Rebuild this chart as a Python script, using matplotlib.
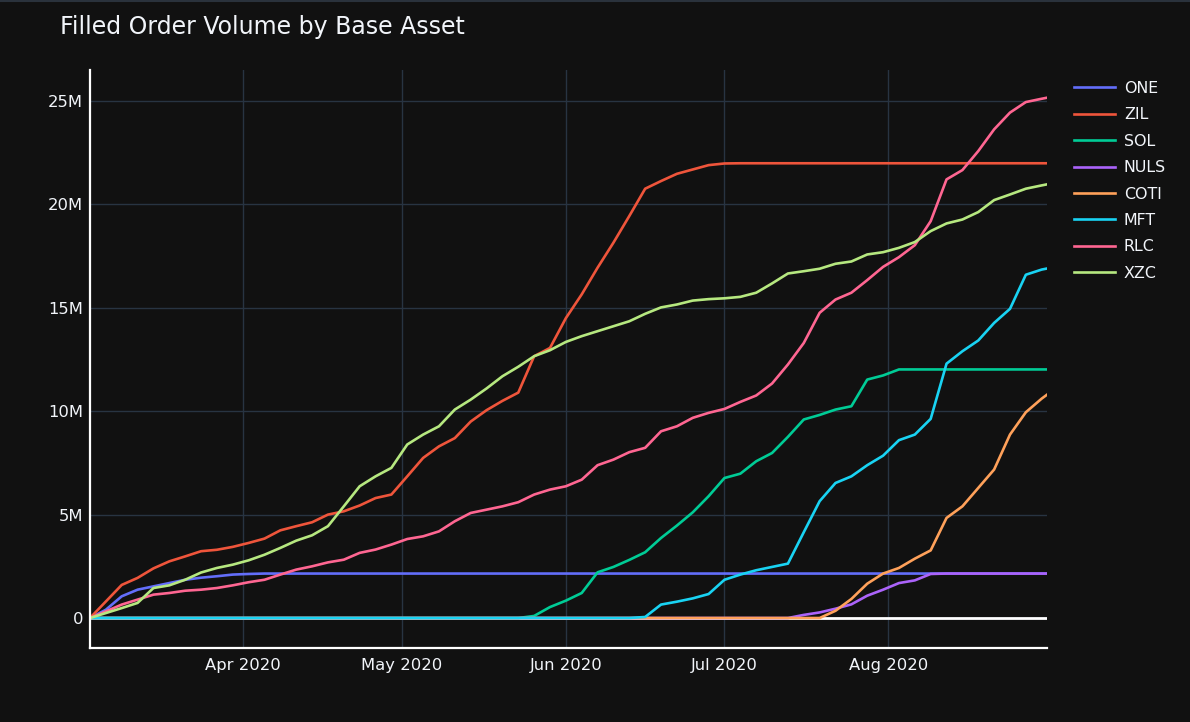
import numpy as np
import pandas as pd
import matplotlib
matplotlib.use("Agg")
import matplotlib.pyplot as plt
import matplotlib.ticker as mticker
from matplotlib.lines import Line2D

# sample days (offset from 2020-03-03), every 3 days up to the last day
start = pd.Timestamp("2020-03-03")
day_offsets = list(range(0, 181, 3)) + [181]
dates = start + pd.to_timedelta(day_offsets, unit="D")

# cumulative filled volume, in millions
one = [0, 0.4, 1.05, 1.37, 1.53, 1.69, 1.85, 1.95, 2.02, 2.1, 2.13,
       2.15, 2.15, 2.15, 2.15, 2.15, 2.15, 2.15, 2.15, 2.15, 2.15,
       2.15, 2.15, 2.15, 2.15, 2.15, 2.15, 2.15, 2.15, 2.15, 2.15,
       2.15, 2.15, 2.15, 2.15, 2.15, 2.15, 2.15, 2.15, 2.15, 2.15,
       2.15, 2.15, 2.15, 2.15, 2.15, 2.15, 2.15, 2.15, 2.15, 2.15,
       2.15, 2.15, 2.15, 2.15, 2.15, 2.15, 2.15, 2.15, 2.15, 2.15, 2.15]
zil = [0, 0.8, 1.6, 1.94, 2.4, 2.74, 2.98, 3.23, 3.3, 3.44, 3.63,
       3.84, 4.24, 4.44, 4.63, 5.0, 5.16, 5.44, 5.8, 5.97, 6.85,
       7.74, 8.3, 8.7, 9.5, 10.05, 10.5, 10.9, 12.66, 13.06, 14.5,
       15.65, 16.94, 18.15, 19.44, 20.76, 21.13, 21.48, 21.69, 21.9, 21.98,
       21.99, 21.99, 21.99, 21.99, 21.99, 21.99, 21.99, 21.99, 21.99, 21.99,
       21.99, 21.99, 21.99, 21.99, 21.99, 21.99, 21.99, 21.99, 21.99, 21.99, 21.99]
sol = [0, 0, 0, 0, 0, 0, 0, 0, 0, 0, 0,
       0, 0, 0, 0, 0, 0, 0, 0, 0, 0,
       0, 0, 0, 0, 0, 0, 0, 0.1, 0.53, 0.84,
       1.21, 2.21, 2.47, 2.81, 3.18, 3.87, 4.47, 5.11, 5.89, 6.77,
       6.98, 7.58, 7.98, 8.76, 9.6, 9.82, 10.08, 10.24, 11.53, 11.73,
       12.02, 12.02, 12.02, 12.02, 12.02, 12.02, 12.02, 12.02, 12.02, 12.02, 12.02]
nuls = [0, 0, 0, 0, 0, 0, 0, 0, 0, 0, 0,
        0, 0, 0, 0, 0, 0, 0, 0, 0, 0,
        0, 0, 0, 0, 0, 0, 0, 0, 0, 0,
        0, 0, 0, 0, 0, 0, 0, 0, 0, 0,
        0, 0, 0, 0, 0.15, 0.27, 0.45, 0.66, 1.08, 1.37,
        1.69, 1.82, 2.13, 2.15, 2.15, 2.15, 2.15, 2.15, 2.15, 2.15, 2.15]
coti = [0, 0, 0, 0, 0, 0, 0, 0, 0, 0, 0,
        0, 0, 0, 0, 0, 0, 0, 0, 0, 0,
        0, 0, 0, 0, 0, 0, 0, 0, 0, 0,
        0, 0, 0, 0, 0, 0, 0, 0, 0, 0,
        0, 0, 0, 0, 0, 0, 0.35, 0.92, 1.66, 2.15,
        2.42, 2.87, 3.27, 4.84, 5.4, 6.29, 7.18, 8.87, 9.95, 10.61, 10.8]
mft = [0, 0, 0, 0, 0, 0, 0, 0, 0, 0, 0,
       0, 0, 0, 0, 0, 0, 0, 0, 0, 0,
       0, 0, 0, 0, 0, 0, 0, 0, 0, 0,
       0, 0, 0, 0, 0.05, 0.65, 0.79, 0.95, 1.16, 1.85,
       2.1, 2.31, 2.47, 2.63, 4.15, 5.65, 6.53, 6.85, 7.39, 7.85,
       8.6, 8.87, 9.63, 12.3, 12.9, 13.42, 14.27, 14.95, 16.6, 16.85, 16.9]
rlc = [0, 0.32, 0.65, 0.89, 1.13, 1.21, 1.32, 1.37, 1.45, 1.58, 1.73,
       1.85, 2.1, 2.34, 2.5, 2.69, 2.82, 3.15, 3.31, 3.55, 3.82,
       3.95, 4.19, 4.68, 5.08, 5.24, 5.4, 5.6, 5.97, 6.21, 6.37,
       6.69, 7.39, 7.66, 8.02, 8.23, 9.03, 9.27, 9.68, 9.92, 10.11,
       10.45, 10.76, 11.34, 12.26, 13.3, 14.76, 15.4, 15.73, 16.34, 16.98,
       17.45, 18.03, 19.19, 21.21, 21.66, 22.58, 23.63, 24.44, 24.95, 25.11, 25.16]
xzc = [0, 0.24, 0.48, 0.73, 1.45, 1.58, 1.85, 2.2, 2.42, 2.58, 2.79,
       3.06, 3.39, 3.74, 4.0, 4.44, 5.4, 6.37, 6.85, 7.26, 8.39,
       8.87, 9.27, 10.08, 10.56, 11.1, 11.69, 12.15, 12.66, 12.95, 13.35,
       13.63, 13.87, 14.11, 14.35, 14.71, 15.02, 15.16, 15.35, 15.42, 15.46,
       15.53, 15.73, 16.18, 16.66, 16.77, 16.89, 17.13, 17.24, 17.58, 17.69,
       17.9, 18.18, 18.71, 19.08, 19.27, 19.63, 20.21, 20.48, 20.76, 20.92, 20.97]

assets = ["ONE", "ZIL", "SOL", "NULS", "COTI", "MFT", "RLC", "XZC"]
series = [one, zil, sol, nuls, coti, mft, rlc, xzc]
colors = ["#636efa", "#EF553B", "#00cc96", "#ab63fa",
          "#FFA15A", "#19d3f3", "#FF6692", "#B6E880"]

bg = "#111111"
grid_c = "#283442"
txt = "#f2f5fa"
plt.rcParams["font.family"] = ["DejaVu Sans"]

fig = plt.figure(figsize=(11.9, 7.22), dpi=100, facecolor=bg)
ax = fig.add_axes([90 / 1190, 74 / 722, 957 / 1190, 578 / 722])
ax.set_facecolor(bg)

ax.axhline(0, color="white", lw=2, zorder=1.5)
for name, vals, c in zip(assets, series, colors):
    ax.plot(dates, np.array(vals) * 1e6, color=c, lw=1.9, label=name,
            zorder=2, solid_joinstyle="round")

ax.set_xlim(dates[0], dates[-1])
ax.set_ylim(-1.45e6, 26.5e6)

ax.set_yticks([0, 5e6, 10e6, 15e6, 20e6, 25e6])
ax.yaxis.set_major_formatter(mticker.FuncFormatter(
    lambda v, p: "0" if v == 0 else f"{v / 1e6:.0f}M"))
month_ticks = pd.to_datetime(["2020-04-01", "2020-05-01", "2020-06-01",
                              "2020-07-01", "2020-08-01"])
ax.set_xticks(month_ticks)
ax.set_xticklabels([d.strftime("%b %Y") for d in month_ticks])

ax.grid(True, color=grid_c, lw=1)
ax.set_axisbelow(True)
ax.tick_params(axis="both", length=0, colors=txt, labelsize=11.8)
ax.tick_params(axis="y", pad=5)
ax.tick_params(axis="x", pad=7)
for s in ["top", "right"]:
    ax.spines[s].set_visible(False)
for s in ["left", "bottom"]:
    ax.spines[s].set_color("white")
    ax.spines[s].set_linewidth(1.6)

leg = ax.legend(loc="upper left", bbox_to_anchor=(1074 / 1190, 1 - 81 / 722),
                bbox_transform=fig.transFigure, frameon=False, fontsize=11.4,
                handlelength=2.6, handletextpad=0.55, labelspacing=0.72,
                borderpad=0, borderaxespad=0)
for t in leg.get_texts():
    t.set_color(txt)

fig.text(60 / 1190, 1 - 27 / 722, "Filled Order Volume by Base Asset",
         color=txt, fontsize=17, ha="left", va="center")
fig.add_artist(Line2D([0, 1], [0.999, 0.999], transform=fig.transFigure,
                      color="#2a323c", lw=1.5))

fig.savefig("out.png", dpi=100, facecolor=bg)
